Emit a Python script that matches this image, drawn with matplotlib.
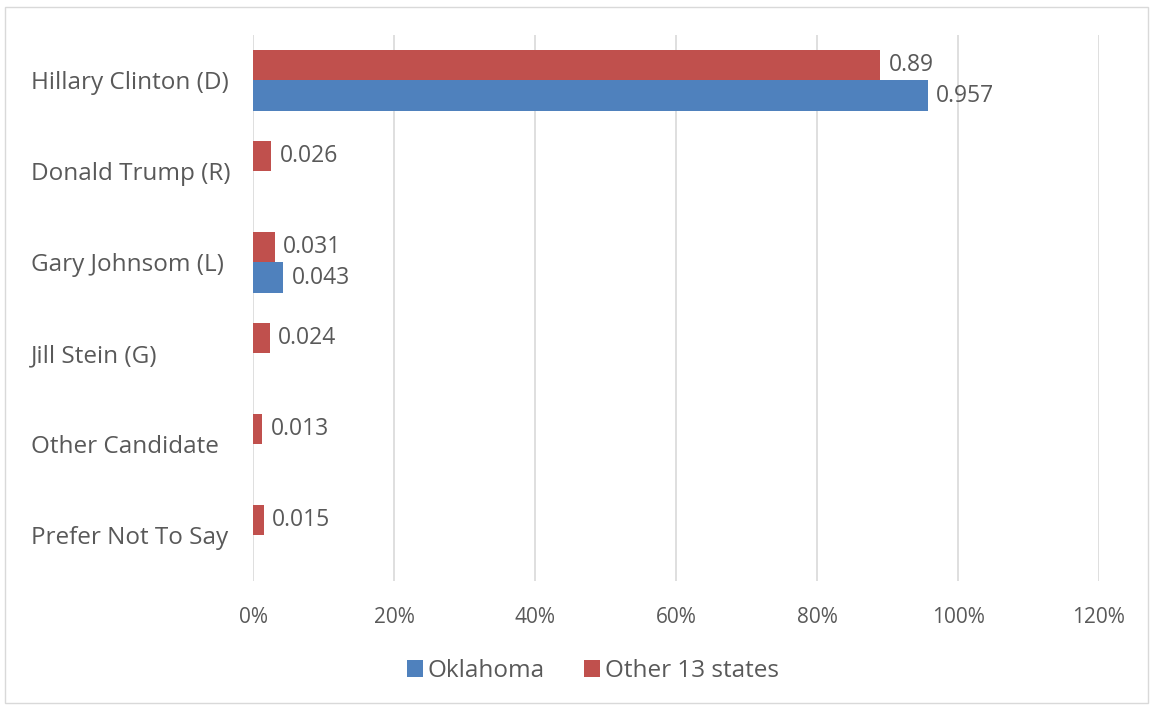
import numpy as np
import matplotlib.pyplot as plt
from matplotlib.patches import Rectangle

candidates = ['Hillary Clinton (D)', 'Donald Trump (R)', 'Gary Johnsom (L)',
              'Jill Stein (G)', 'Other Candidate', 'Prefer Not To Say']
oklahoma = [0.957, 0, 0.043, 0, 0, 0]
other_states = [0.89, 0.026, 0.031, 0.024, 0.013, 0.015]
x_ticks = [0, 0.2, 0.4, 0.6, 0.8, 1.0, 1.2]
x_tick_labels = ['0%', '20%', '40%', '60%', '80%', '100%', '120%']

blue = '#4F81BD'
red = '#C0504D'
text_gray = '#595959'

plt.rcParams['font.family'] = ['Open Sans', 'DejaVu Sans']

fig = plt.figure(figsize=(11.51, 7.08), dpi=100)
fig.patches.append(Rectangle((5 / 1151, 5 / 708), 1143 / 1151, 696 / 708,
                             transform=fig.transFigure, fill=False,
                             edgecolor='#D9D9D9', linewidth=1))
ax = fig.add_axes([253 / 1151, 127 / 708, 846 / 1151, 546 / 708])

y = np.arange(len(candidates))
h = 0.34
bars_ok = ax.barh(y + h / 2, oklahoma, height=h, color=blue, label='Oklahoma', zorder=3)
bars_other = ax.barh(y - h / 2, other_states, height=h, color=red, label='Other 13 states', zorder=3)

ax.bar_label(bars_ok, labels=[('%g' % v if v else '') for v in oklahoma],
             padding=6, fontsize=16.5, color=text_gray)
ax.bar_label(bars_other, labels=[('%g' % v if v else '') for v in other_states],
             padding=6, fontsize=16.5, color=text_gray)

ax.set_xlim(0, 1.2)
ax.set_ylim(len(candidates) - 0.5, -0.5)
ax.set_xticks(x_ticks)
ax.set_xticklabels(x_tick_labels, fontsize=15, color=text_gray)
ax.set_yticks(y)
ax.set_yticklabels(candidates, fontsize=17.5, color=text_gray)
for lbl in ax.get_yticklabels():
    lbl.set_horizontalalignment('left')
ax.tick_params(axis='y', length=0, pad=160)
ax.tick_params(axis='x', length=0, pad=19)
ax.grid(axis='x', color='#D9D9D9', linewidth=1.2, zorder=0)
for s in ax.spines.values():
    s.set_visible(False)

handles, labels = ax.get_legend_handles_labels()
fig.legend(handles, labels, loc='center', bbox_to_anchor=(593 / 1151, 1 - 671 / 708),
           ncol=2, frameon=False, fontsize=17.5, handlelength=0.65, handleheight=0.75,
           handletextpad=0.2, columnspacing=1.6, labelcolor=text_gray)

plt.savefig('out.png', dpi=100)
